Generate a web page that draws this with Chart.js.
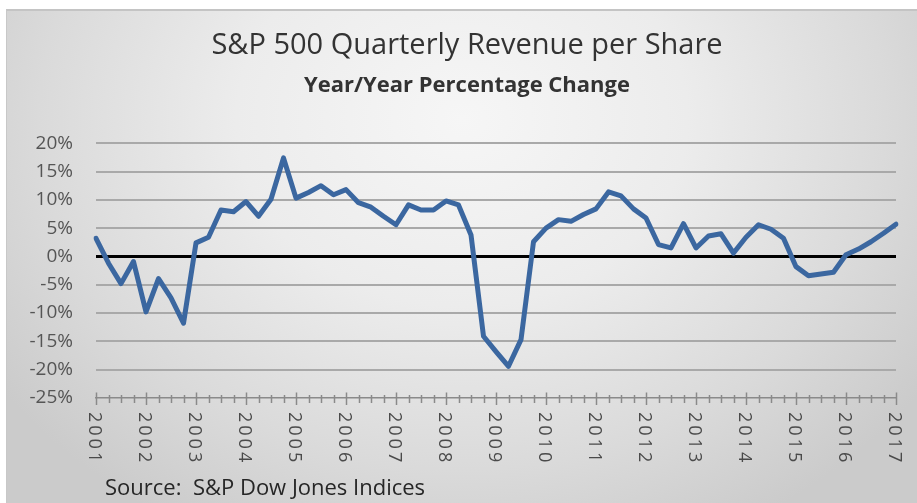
<!DOCTYPE html>
<html>
<head>
<meta charset="utf-8">
<script src="https://cdn.jsdelivr.net/npm/chart.js@4"></script>
<style>
  html, body { margin: 0; padding: 0; background: #ffffff; }
  #wrap { position: relative; width: 917px; height: 503px; overflow: hidden; }
  #panel {
    position: absolute; left: 6px; top: 9px; width: 911px; height: 494px;
    border-top: 2px solid #c4c4c4; border-left: 1px solid #c8c8c8; box-sizing: border-box;
    background: radial-gradient(ellipse 62% 95% at 50% 22%, #f6f6f6 0%, #ececec 40%, #dadada 75%, #cbcbcb 100%);
  }
  #chart { position: absolute; left: 0; top: 0; }
  #source {
    position: absolute; left: 105px; top: 471px;
    font-family: "Open Sans", "Lato", sans-serif; font-size: 22px; color: #262626;
    white-space: pre;
  }
</style>
</head>
<body>
<div id="wrap">
  <div id="panel"></div>
  <canvas id="chart" width="917" height="503"></canvas>
  <div id="source">Source:  S&amp;P Dow Jones Indices</div>
</div>
<script>
// ---- data ----
const years = [2001, 2002, 2003, 2004, 2005, 2006, 2007, 2008, 2009, 2010, 2011, 2012, 2013, 2014, 2015, 2016, 2017];
const quarterNames = ['Q1', 'Q2', 'Q3', 'Q4'];
const revenueGrowth = [
  3.2, -1.2, -4.8, -0.9,      // 2001
  -9.8, -3.9, -7.3, -11.8,    // 2002
  2.4, 3.4, 8.2, 7.9,         // 2003
  9.7, 7.1, 10.1, 17.4,       // 2004
  10.3, 11.3, 12.5, 10.9,     // 2005
  11.8, 9.5, 8.7, 7.1,        // 2006
  5.6, 9.1, 8.2, 8.2,         // 2007
  9.8, 9.1, 3.8, -14.1,       // 2008
  -16.8, -19.4, -14.7, 2.6,   // 2009
  5.0, 6.5, 6.2, 7.4,         // 2010
  8.4, 11.4, 10.7, 8.4,       // 2011
  6.8, 2.1, 1.5, 5.8,         // 2012
  1.5, 3.6, 4.0, 0.6,         // 2013
  3.4, 5.6, 4.8, 3.2,         // 2014
  -1.8, -3.4, -3.1, -2.8,     // 2015
  0.3, 1.3, 2.6, 4.1,         // 2016
  5.7                         // 2017
];
const yTicks = { min: -25, max: 20, step: 5 };
const titleText = 'S&P 500 Quarterly Revenue per Share';
const subtitleText = 'Year/Year Percentage Change';

// category labels (one per quarter)
const categories = [];
years.forEach(y => quarterNames.forEach(q => categories.push(y + ' ' + q)));
categories.length = revenueGrowth.length;

const FONT = '"Open Sans", "Lato", sans-serif';

// custom x axis: cross tick marks + year labels reading top-to-bottom
const xAxisDecor = {
  id: 'xAxisDecor',
  afterDraw(chart) {
    const xs = chart.scales.x;
    const ctx = chart.ctx;
    const yAxis = chart.chartArea.bottom;
    ctx.save();
    ctx.strokeStyle = '#8a8a8a';
    ctx.lineWidth = 1.5;
    ctx.beginPath();
    for (let i = 0; i < categories.length; i++) {
      const x = Math.round(xs.getPixelForValue(i)) + 0.5;
      const major = i % 4 === 0;
      ctx.moveTo(x, yAxis - (major ? 5.5 : 3));
      ctx.lineTo(x, yAxis + (major ? 7 : 5));
    }
    ctx.stroke();
    ctx.fillStyle = '#4a4a4a';
    ctx.font = '18px ' + FONT;
    if ('letterSpacing' in ctx) ctx.letterSpacing = '3px';
    ctx.textAlign = 'left';
    ctx.textBaseline = 'middle';
    for (let i = 0; i < categories.length; i += 4) {
      const x = xs.getPixelForValue(i);
      ctx.save();
      ctx.translate(x - 2, yAxis + 14);
      ctx.rotate(Math.PI / 2);
      ctx.fillText(String(years[i / 4]), 0, 0);
      ctx.restore();
    }
    ctx.restore();
  }
};

new Chart(document.getElementById('chart'), {
  type: 'line',
  data: {
    labels: categories,
    datasets: [{
      data: revenueGrowth,
      borderColor: '#3b67a0',
      borderWidth: 5,
      pointRadius: 0,
      tension: 0,
      fill: false,
      borderJoinStyle: 'round',
      borderCapStyle: 'round'
    }]
  },
  options: {
    responsive: false,
    animation: false,
    events: [],
    layout: { padding: { left: 17, right: 0, top: 0, bottom: 0 } },
    plugins: {
      legend: { display: false },
      tooltip: { enabled: false },
      title: {
        display: true, text: titleText, color: '#333333',
        font: { family: FONT, size: 29, weight: 'normal' },
        padding: { top: 28, bottom: 0 }
      },
      subtitle: {
        display: true, text: subtitleText, color: '#333333',
        font: { family: FONT, size: 22, weight: 'bold' },
        padding: { top: 10, bottom: 44 }
      }
    },
    scales: {
      x: {
        type: 'category',
        offset: false,
        grid: { display: false },
        border: { display: true, color: '#8a8a8a', width: 1.5 },
        ticks: {
          autoSkip: false, minRotation: 90, maxRotation: 90,
          color: 'rgba(0,0,0,0)', font: { family: FONT, size: 17 },
          callback: (v, i) => (i % 4 === 0 ? String(years[i / 4]) : '')
        },
        afterFit: s => { s.height = 105; s.paddingRight = 21; s.paddingLeft = 0; }
      },
      y: {
        min: yTicks.min, max: yTicks.max,
        ticks: {
          stepSize: yTicks.step, color: '#555555', padding: 23,
          font: { family: FONT, size: 19 },
          callback: v => v + '%'
        },
        grid: {
          drawTicks: false,
          color: c => (c.tick && c.tick.value === 0 ? '#000000' : (c.tick && c.tick.value === yTicks.min ? 'rgba(0,0,0,0)' : '#a9a9a9')),
          lineWidth: c => (c.tick && c.tick.value === 0 ? 3 : 2)
        },
        border: { display: false },
        afterFit: s => { s.width = 79; }
      }
    }
  },
  plugins: [xAxisDecor]
});
</script>
</body>
</html>
